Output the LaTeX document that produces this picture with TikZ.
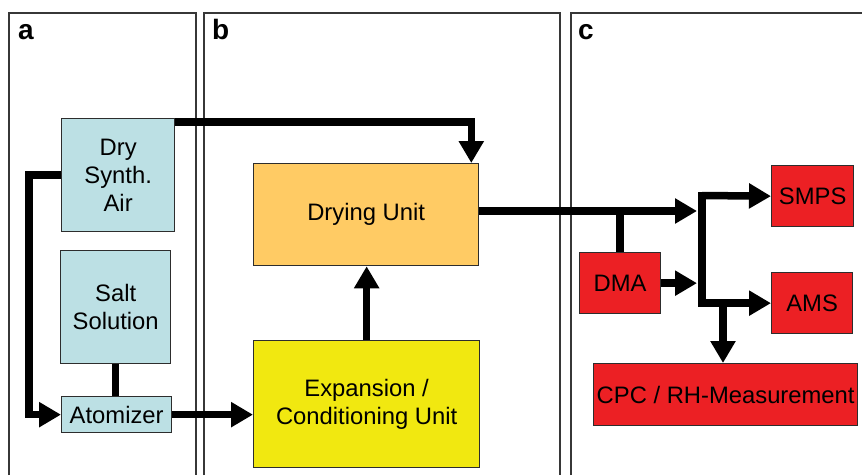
\documentclass[tikz,border=0pt]{standalone}
\usepackage{fontspec}
\setmainfont{Liberation Sans}
\usetikzlibrary{arrows.meta,calc}
\definecolor{lblue}{RGB}{188,224,228}
\definecolor{dorange}{RGB}{255,203,100}
\definecolor{dyellow}{RGB}{241,232,16}
\definecolor{dred}{RGB}{236,32,36}
\definecolor{boxline}{RGB}{45,45,45}
\definecolor{panelline}{RGB}{55,55,55}
\begin{document}
\begin{tikzpicture}[x=1pt,y=-1pt,
  box/.style={draw=boxline, line width=1.3pt, inner sep=0pt, anchor=north west,
    align=center, font=\fontsize{23.8}{28}\selectfont},
  conn/.style={line width=7.5pt, -{Triangle[length=22pt,width=24pt]}},
  link/.style={line width=7.5pt},
  panel/.style={draw=panelline, line width=1.5pt},
  plabel/.style={font=\fontsize{28}{30}\selectfont\bfseries, anchor=base west, inner sep=0pt}]
\useasboundingbox[fill=white] (0,0) rectangle (862,475);
% panels
\draw[panel] (9,475) -- (9,13) -- (196,13) -- (196,475);
\draw[panel] (204,475) -- (204,13) -- (560,13) -- (560,475);
\draw[panel] (571,475) -- (571,13) -- (862,13);
\node[plabel] (la) at (18,39) {a};
\node[plabel] (lb) at (212,39) {b};
\node[plabel] (lc) at (578,39) {c};
% boxes
\node[box, fill=lblue, minimum width=113pt, minimum height=113pt] (air) at (61,118) {Dry\\Synth.\\Air};
\node[box, fill=lblue, minimum width=110pt, minimum height=113pt] (salt) at (60,250) {Salt\\Solution};
\node[box, fill=lblue, minimum width=110pt, minimum height=36pt] (atom) at (61,396) {Atomizer};
\node[box, fill=dorange, minimum width=225pt, minimum height=102pt] (dry) at (253,163) {Drying Unit};
\node[box, fill=dyellow, minimum width=226pt, minimum height=127pt] (exp) at (253,340) {Expansion /\\Conditioning Unit};
\node[box, fill=dred, minimum width=81pt, minimum height=61pt] (dma) at (579,252) {DMA};
\node[box, fill=dred, minimum width=82pt, minimum height=61pt] (smps) at (771,165) {SMPS};
\node[box, fill=dred, minimum width=81pt, minimum height=61pt] (ams) at (771,272) {AMS};
\node[box, fill=dred, minimum width=264pt, minimum height=62pt] (cpc) at (593,363) {CPC / RH-Measurement};
% bus coordinates
\coordinate (bustop) at (702,195.5);
\coordinate (busin) at (697,211);
\coordinate (cpcin) at (723,302.5);
% connectors
\draw[conn] ($(air.north east)+(0,4)$) -| ($(dry.north east)+(-8,0)$);
\draw[conn] (air.west) -- ++(-32,0) |- (atom.west);
\draw[link] (salt.south) -- (salt.south |- atom.north);
\draw[conn] (atom.east) -- (exp.west |- atom.east);
\draw[conn] (exp.north) -- (exp.north |- dry.south);
\draw[conn] (dry.east |- busin) -- (busin);
\draw[link] (dma.north) -- (dma.north |- busin);
\draw[conn] (dma.east) -- (dma.east -| busin);
\draw[conn, line cap=rect] (bustop) |- (ams.west);
\draw[conn] (bustop) -- (smps.west);
\draw[conn] (cpcin) -- (cpcin |- cpc.north);
\end{tikzpicture}
\end{document}
